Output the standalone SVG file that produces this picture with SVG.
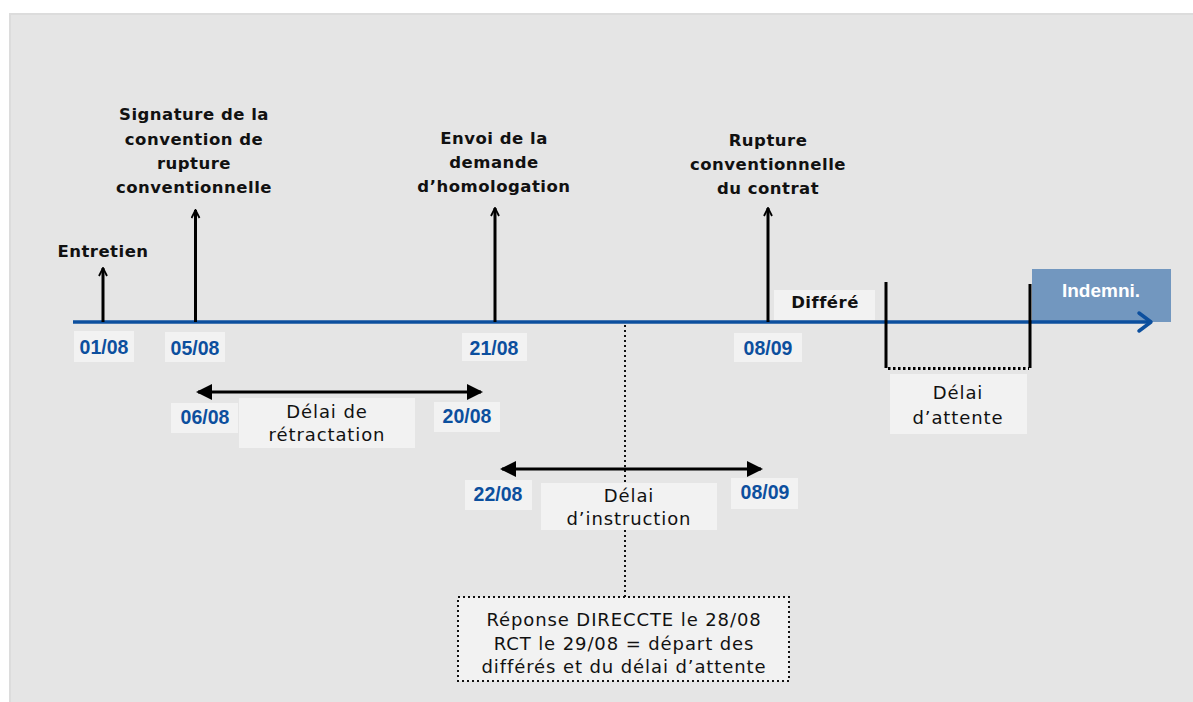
<svg xmlns="http://www.w3.org/2000/svg" width="1193" height="702" viewBox="0 0 1193 702">
<defs>
<style>
.bg{fill:#e5e5e5}
.lbl{fill:#f2f2f2}
.date{font-family:"Liberation Sans",Arial,sans-serif;font-weight:bold;font-size:19.5px;fill:#0c4f9e;text-anchor:middle}
.head{font-family:"DejaVu Sans",sans-serif;font-weight:bold;font-size:16.5px;fill:#111;text-anchor:middle;letter-spacing:0.5px}
.reg{font-family:"DejaVu Sans",sans-serif;font-size:18px;fill:#111;text-anchor:middle;letter-spacing:0.9px}
.ev{stroke:#000;stroke-width:3;fill:none;marker-end:url(#open)}
.dbl{stroke:#000;stroke-width:3;fill:none;marker-start:url(#tri);marker-end:url(#tri)}
.dot{stroke:#111;stroke-width:2;stroke-dasharray:2 3;fill:none}
</style>
<marker id="open" viewBox="0 0 10 10" refX="9" refY="5" markerWidth="10" markerHeight="10" markerUnits="userSpaceOnUse" orient="auto">
<path d="M1,1 L9,5 L1,9" fill="none" stroke="#000" stroke-width="1.8"/>
</marker>
<marker id="tri" viewBox="0 0 16 16" refX="14" refY="8" markerWidth="16" markerHeight="16" markerUnits="userSpaceOnUse" orient="auto-start-reverse">
<path d="M0,0 L16,8 L0,16 Z" fill="#000"/>
</marker>
</defs>
<rect x="0" y="0" width="1193" height="702" fill="#ffffff"/>
<rect x="9" y="13" width="1184" height="689" fill="#dcdcdc"/>
<rect x="11" y="15" width="1182" height="687" class="bg"/>

<g id="connectors">
<line class="dot" x1="625" y1="325" x2="625" y2="597"/>
<rect x="1032" y="269" width="139" height="53" fill="#7297bf"/>
<line x1="73" y1="322" x2="1150" y2="322" stroke="#0c4f9e" stroke-width="3.5"/>
<path d="M1139,313 L1151,322 L1139,331" fill="none" stroke="#0c4f9e" stroke-width="3.5" stroke-linecap="round" stroke-linejoin="round"/>
<line class="ev" x1="103" y1="322" x2="103" y2="268"/>
<line class="ev" x1="195.5" y1="322" x2="195.5" y2="210"/>
<line class="ev" x1="495" y1="322" x2="495" y2="208"/>
<line class="ev" x1="768" y1="322" x2="768" y2="208"/>
<line class="dbl" x1="198" y1="392" x2="481" y2="392"/>
<line class="dbl" x1="502" y1="469" x2="761" y2="469"/>
<path d="M886,282 L886,368 M1030,284 L1030,368" stroke="#000" stroke-width="3" fill="none"/>
<line x1="888" y1="368.5" x2="1029" y2="368.5" stroke="#000" stroke-width="3" stroke-dasharray="2.5 2.5"/>
</g>

<g id="n-entretien">
<text class="head" x="103" y="257">Entretien</text>
<rect class="lbl" x="74" y="331" width="60" height="31"/>
<text class="date" x="104" y="354">01/08</text>
</g>

<g id="n-signature">
<text class="head" x="194" y="120">Signature de la</text>
<text class="head" x="194" y="145">convention de</text>
<text class="head" x="194" y="169">rupture</text>
<text class="head" x="194" y="193">conventionnelle</text>
<rect class="lbl" x="165" y="332" width="60" height="30"/>
<text class="date" x="195" y="355">05/08</text>
</g>

<g id="n-envoi">
<text class="head" x="494" y="144">Envoi de la</text>
<text class="head" x="494" y="168">demande</text>
<text class="head" x="494" y="192">d’homologation</text>
<rect class="lbl" x="462" y="333" width="65" height="28"/>
<text class="date" x="494" y="355">21/08</text>
</g>

<g id="n-rupture">
<text class="head" x="768" y="146">Rupture</text>
<text class="head" x="768" y="170">conventionnelle</text>
<text class="head" x="768" y="194">du contrat</text>
<rect class="lbl" x="734" y="333" width="68" height="29"/>
<text class="date" x="768" y="355">08/09</text>
</g>

<g id="n-differe">
<rect class="lbl" x="774" y="290" width="101" height="30"/>
<text class="head" x="825" y="308">Différé</text>
</g>

<g id="n-attente">
<rect class="lbl" x="890" y="374" width="137" height="60"/>
<text class="reg" x="958" y="399">Délai</text>
<text class="reg" x="958" y="424">d’attente</text>
</g>

<g id="n-indemni">
<text x="1101" y="297" font-family="Liberation Sans, Arial, sans-serif" font-weight="bold" font-size="19" fill="#ffffff" text-anchor="middle">Indemni.</text>
</g>

<g id="n-retractation">
<rect class="lbl" x="171" y="403" width="67" height="30"/>
<text class="date" x="205" y="424">06/08</text>
<rect class="lbl" x="239" y="398" width="176" height="50"/>
<text class="reg" x="327" y="418">Délai de</text>
<text class="reg" x="327" y="441">rétractation</text>
<rect class="lbl" x="434" y="402" width="66" height="30"/>
<text class="date" x="467" y="423">20/08</text>
</g>

<g id="n-instruction">
<rect class="lbl" x="465" y="480" width="67" height="30"/>
<text class="date" x="498" y="501">22/08</text>
<rect class="lbl" x="541" y="483" width="176" height="47"/>
<text class="reg" x="629" y="502">Délai</text>
<text class="reg" x="629" y="525">d’instruction</text>
<rect class="lbl" x="731" y="478" width="67" height="31"/>
<text class="date" x="765" y="499">08/09</text>
</g>

<g id="n-reponse">
<rect x="458" y="597" width="331" height="84" fill="#f2f2f2" stroke="#111" stroke-width="2" stroke-dasharray="2 3"/>
<text class="reg" x="624" y="626">Réponse DIRECCTE le 28/08</text>
<text class="reg" x="624" y="650">RCT le 29/08 = départ des</text>
<text class="reg" x="624" y="673">différés et du délai d’attente</text>
</g>
</svg>
